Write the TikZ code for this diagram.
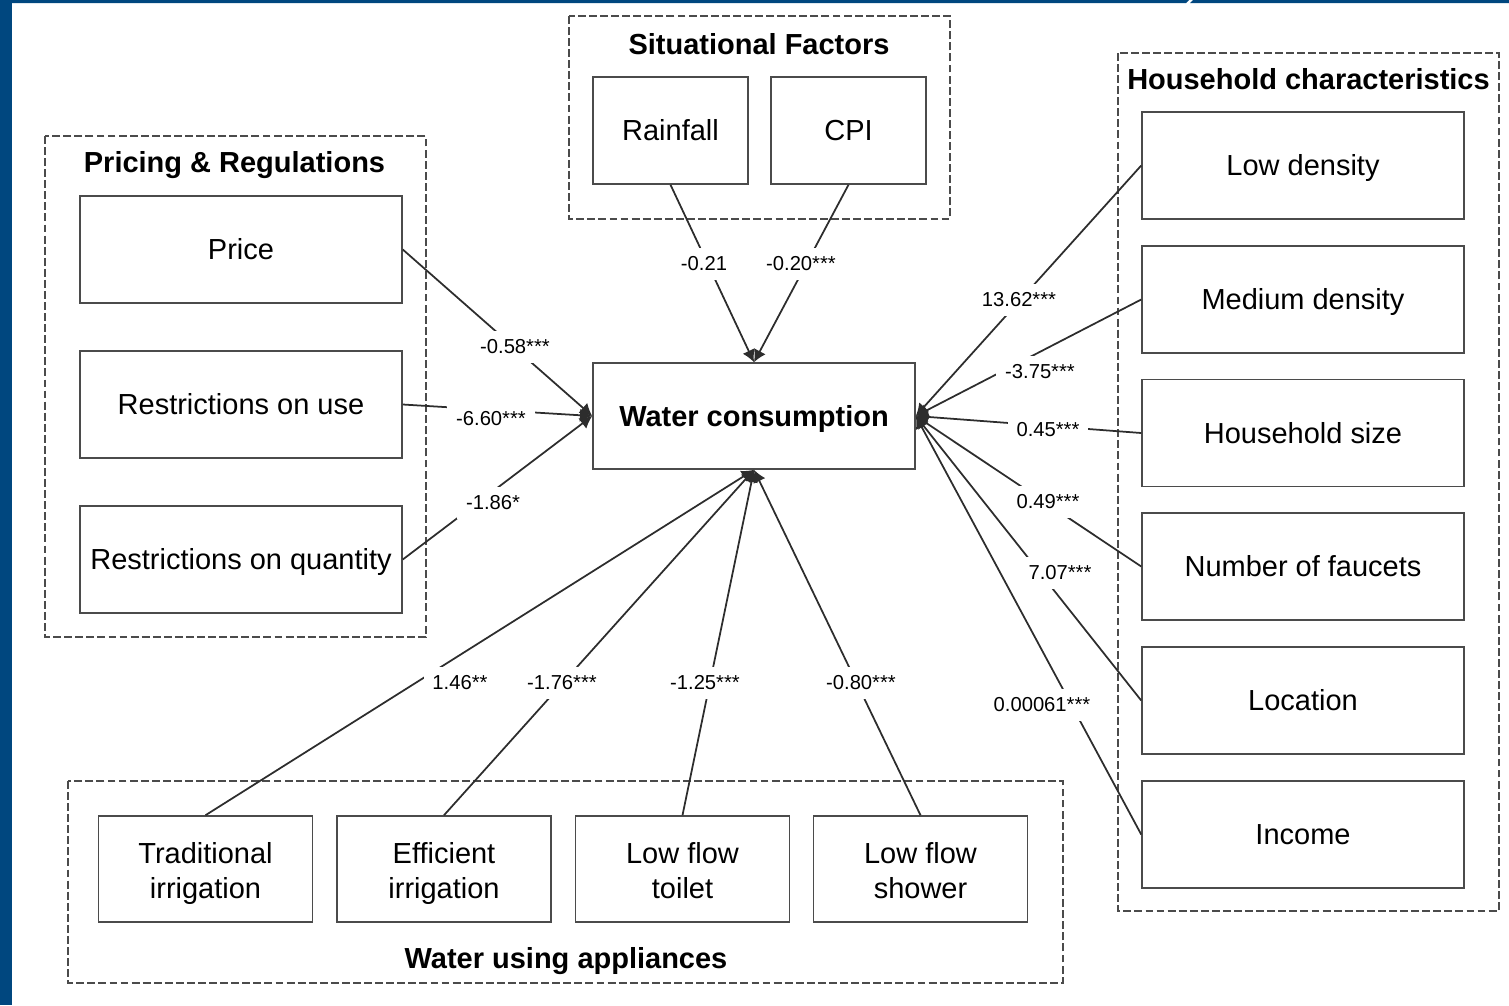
\documentclass[tikz,border=0pt]{standalone}
\usepackage{fontspec}
\setmainfont{Liberation Sans}
\usetikzlibrary{arrows.meta}
\definecolor{framebl}{RGB}{0,71,127}
\definecolor{edgegray}{RGB}{45,45,45}
\definecolor{boxgray}{RGB}{75,75,75}
\newcommand{\twoline}[2]{\rule{0pt}{17.6pt}#1\\#2\rule[-4pt]{0pt}{4pt}}
\tikzset {>={Latex[length=7pt,width=7.5pt]}}
\tikzset{
  var/.style={draw=boxgray,line width=0.9pt,inner sep=0pt,align=center,
    font=\fontsize{16.5}{19.8}\selectfont},
  oneline/.style={text height=14pt,text depth=2.2pt},
  wide/.style={var,oneline,minimum width=6.44cm,minimum height=2.14cm},
  narrow/.style={var,oneline,minimum width=3.1cm,minimum height=2.14cm},
  appl/.style={var,minimum width=4.28cm,minimum height=2.12cm},
  grp/.style={draw=boxgray,line width=0.6pt,dash pattern=on 4.5pt off 1.8pt},
  grptitle/.style={oneline,font=\fontsize{16.5}{20}\selectfont\bfseries},
  coef/.style={fill=white,inner sep=5pt,font=\fontsize{11.5}{13}\selectfont},
  link/.style={draw=edgegray,line width=1pt,->}
}

\begin{document}
\begin{tikzpicture}[x=0.02cm,y=-0.02cm]
\useasboundingbox (0,0) rectangle (1509,1005);

% frame
\fill[framebl] (0,0) rectangle (12,1005);
\fill[framebl] (0,0) -- (1189,0) -- (1186,3) -- (0,3) -- cycle;
\fill[framebl] (1193,0) -- (1509,0) -- (1509,3) -- (1190,3) -- cycle;

% groups
\draw[grp] (569,16) rectangle (950,219);
\draw[grp] (45,136) rectangle (426,637);
\draw[grp] (1118,53) rectangle (1499,911);
\draw[grp] (68,781) rectangle (1063,983);
\node[grptitle] (tSit) at (759,44) {Situational Factors};
\node[grptitle] (tPri) at (234.5,162) {Pricing \& Regulations};
\node[grptitle] (tHh) at (1308.5,79) {Household characteristics};
\node[grptitle] (tApp) at (566,958) {Water using appliances};

% variables
\node[narrow] (rain) at (670.5,130.5) {Rainfall};
\node[narrow] (cpi) at (848.5,130.5) {CPI};
\foreach \name/\y/\txt in {price/249.5/Price, ruse/404.5/Restrictions on use,
    rqty/559.5/Restrictions on quantity}
  \node[wide] (\name) at (241,\y) {\txt};
\foreach \name/\y/\txt in {lowd/165.5/Low density, medd/299.5/Medium density,
    hsize/433/Household size, fauc/566.5/Number of faucets,
    loc/700.5/Location, inc/834.5/Income}
  \node[wide] (\name) at (1303,\y) {\txt};
\foreach \name/\x/\one/\two in {trad/205.5/Traditional/irrigation,
    effi/444/Efficient/irrigation, toil/682.5/Low flow/toilet,
    show/920.5/Low flow/shower}
  \node[appl] (\name) at (\x,869) {\twoline{\one}{\two}};
\node[wide,minimum height=2.12cm,font=\fontsize{16.5}{20}\selectfont\bfseries]
  (wc) at (754,416) {Water consumption};

% paths
\foreach \src/\from/\to in {rain/south/north, cpi/south/north,
    price/east/west, ruse/east/west, rqty/east/west,
    lowd/west/east, medd/west/east, hsize/west/east, fauc/west/east,
    loc/west/east, inc/west/east,
    trad/north/south, effi/north/south, toil/north/south, show/north/south}
  \draw[link] (\src.\from) -- (wc.\to);

% estimates
\foreach \name/\x/\y/\txt in {lRain/704/264/-0.21, lCpi/801/264/-0.20***,
    lPrice/515/347/-0.58***, lUse/491/419/-6.60***, lQty/493/503/-1.86*,
    lLowd/1019/300/13.62***, lMedd/1040/372/-3.75***, lHsize/1048/430/0.45***,
    lFauc/1048/502/0.49***, lLoc/1060/573/7.07***, lInc/1042/705/0.00061***,
    lTrad/460/683/1.46**, lEffi/562/683/-1.76***, lToil/705/683/-1.25***,
    lShow/861/683/-0.80***}
  \node[coef] (\name) at (\x,\y) {\txt};
\end{tikzpicture}
\end{document}
